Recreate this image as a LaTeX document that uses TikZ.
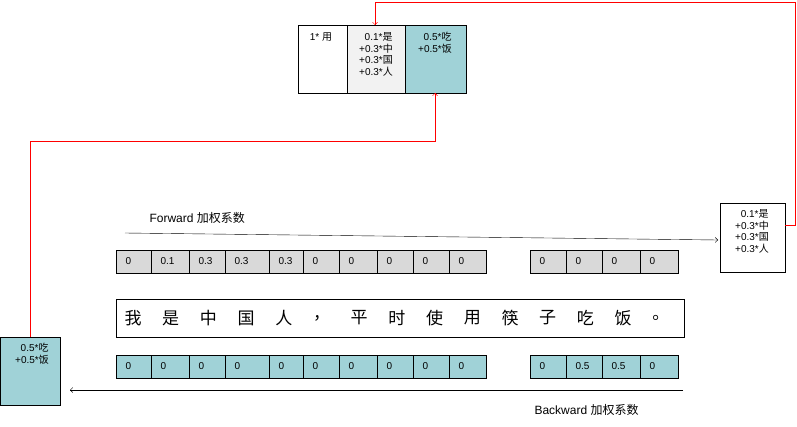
\documentclass[tikz,border=0pt]{standalone}
\usepackage{fontspec}
\setmainfont{Liberation Sans}
\newfontfamily\cjk{Noto Sans CJK SC}
\newcommand{\zh}[1]{{\cjk #1}}
\usetikzlibrary{arrows}
\definecolor{cellgray}{RGB}{217,217,217}
\definecolor{cellteal}{RGB}{160,210,215}
\definecolor{boxgray}{RGB}{242,242,242}
\tikzstyle{cell} = [rectangle, draw=black, anchor=north west, inner sep=0pt]
\tikzstyle{note} = [rectangle, draw=black, anchor=north west, inner sep=0pt]
\tikzstyle{redline} = [red, ->, >=angle 90]
\tikzstyle{arrow} = [->, >=angle 90]
\begin{document}
\begin{tikzpicture}[x=1pt, y=-1pt, font=\fontsize{10}{11.5}\selectfont]
\useasboundingbox (0,0) rectangle (797,426);

% top boxes
\node (topa) [note, minimum width=49pt, minimum height=68pt] at (298,25) {};
\node (topb) [note, minimum width=58pt, minimum height=68pt, fill=boxgray] at (347,25) {};
\node (topc) [note, minimum width=61pt, minimum height=68pt, fill=cellteal] at (405,25) {};
\node [anchor=north] at (321,29) {1* \zh{用}};
\node [anchor=north, align=left] at (376,29) {\ \ 0.1*\zh{是}\\+0.3*\zh{中}\\+0.3*\zh{国}\\+0.3*\zh{人}};
\node [anchor=north, align=left] at (435,29) {\ \ 0.5*\zh{吃}\\+0.5*\zh{饭}};

% side boxes
\node (right) [note, minimum width=65pt, minimum height=69pt] at (720,203) {};
\node [anchor=north, align=left] at (752,206) {\ \ 0.1*\zh{是}\\+0.3*\zh{中}\\+0.3*\zh{国}\\+0.3*\zh{人}};
\node (left) [note, minimum width=60pt, minimum height=68pt, fill=cellteal] at (0,337) {};
\node [anchor=north, align=left] at (32,340) {\ \ 0.5*\zh{吃}\\+0.5*\zh{饭}};

% weight rows
\foreach \xa/\xb/\v in {116/151/0,151/189/0.1,189/225/0.3,225/269/0.3,269/303/0.3,303/339/0,339/377/0,377/413/0,413/449/0,449/486/0,
                        530/566/0,566/602/0,602/640/0,640/678/0}
  {\node [cell, fill=cellgray, minimum width=\xb-\xa, minimum height=23pt] at (\xa,250) {};
   \node [anchor=west] at (\xa+6,261.5) {\v};}
\foreach \xa/\xb/\v in {116/151/0,151/189/0,189/225/0,225/269/0,269/303/0,303/339/0,339/377/0,377/413/0,413/449/0,449/486/0,
                        530/566/0,566/602/0.5,602/640/0.5,640/678/0}
  {\node [cell, fill=cellteal, minimum width=\xb-\xa, minimum height=23pt] at (\xa,355) {};
   \node [anchor=west] at (\xa+6,366) {\v};}

% sentence
\node (sent) [note, minimum width=568pt, minimum height=38pt] at (116,299) {};
\foreach \c [count=\i from 0] in {我,是,中,国,人,，,平,时,使,用,筷,子,吃,饭,。}
  \node [font=\cjk\fontsize{17}{17}\selectfont] at (133+37.7*\i,318) {\c};

% forward / backward
\coordinate (fstart) at (125,233);
\coordinate (fend) at (718,240);
\coordinate (bstart) at (683,390);
\coordinate (bend) at (70,390);
\node [anchor=west, font=\fontsize{12}{14}\selectfont] at (146,218) {Forward \zh{加权系数}};
\node [anchor=west, font=\fontsize{12}{14}\selectfont] at (531,410) {Backward \zh{加权系数}};
\draw [arrow] (fstart) -- (fend);
\draw [arrow] (bstart) -- (bend);

% red links
\draw [redline] (right.east |- 0,225) -- (795,225) -- (795,2) -| (375,25);
\draw [redline] (left.north) |- (435,141) -- (435,93);

\end{tikzpicture}
\end{document}
